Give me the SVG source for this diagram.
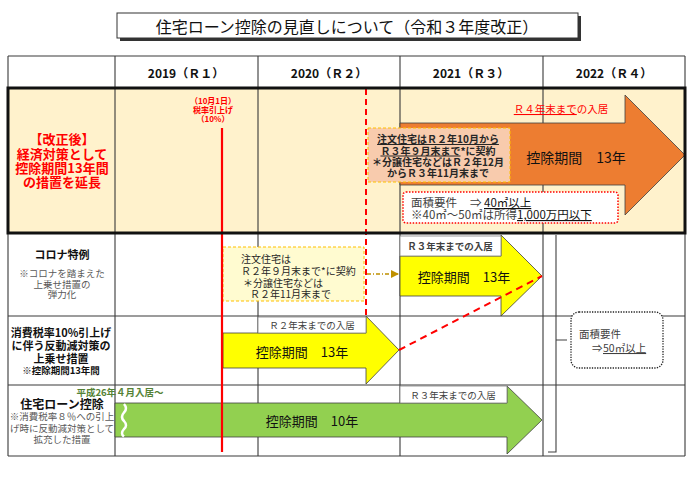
<svg xmlns="http://www.w3.org/2000/svg" width="700" height="483" viewBox="0 0 700 483">
<style>
text{font-family:"Noto Sans CJK JP","Noto Sans",sans-serif;dominant-baseline:central}
.grid{stroke:#3a3a3a;stroke-width:1.1;fill:none}
.hdr{font-size:12px;font-weight:bold;text-anchor:middle;fill:#111}
.mid{text-anchor:middle}
.main{font-size:13px;fill:#111;text-anchor:middle}
.lbl{font-size:9.5px;fill:#404040;text-anchor:middle}
.lblbox{fill:#fff;stroke:#7f7f7f;stroke-width:0.8}
.arrow{stroke:#404040;stroke-width:0.8}
.note{font-size:9.5px;fill:#595959;text-anchor:middle}
.u{text-decoration:underline}
.rdash{stroke:#ff0000;stroke-width:2;stroke-dasharray:6 4;fill:none}
</style>
<defs>
<marker id="brownHead" markerWidth="8" markerHeight="8" refX="7" refY="4" orient="auto" markerUnits="userSpaceOnUse">
<path d="M0,0 L8,4 L0,8 Z" fill="#bf9000"/>
</marker>
</defs>

<g id="title">
<rect x="120" y="16" width="461" height="25" fill="#333"/>
<rect x="117" y="13" width="461" height="25" fill="#fff" stroke="#333" stroke-width="1"/>
<text x="347" y="26" class="mid" font-size="16" fill="#111">住宅ローン控除の見直しについて（令和３年度改正）</text>
</g>

<g id="table-bg">
<rect x="8" y="88" width="677" height="145" fill="#fff2cc"/>
</g>

<g id="grid">
<path class="grid" d="M8,56 H685 M8,316 H685 M8,385 H685 M8,456 H685 M8,56 V456 M115,56 V456 M258,56 V456 M400,56 V456 M543,56 V456 M685,56 V456"/>
</g>

<g id="header">
<text x="186" y="72" class="hdr">2019（Ｒ１）</text>
<text x="329" y="72" class="hdr">2020（Ｒ２）</text>
<text x="471" y="72" class="hdr">2021（Ｒ３）</text>
<text x="614" y="72" class="hdr">2022（Ｒ４）</text>
</g>

<g id="row-kaisei">
<text class="mid" font-size="13" font-weight="bold" fill="#ff0000"><tspan x="62" y="138">【改正後】</tspan><tspan x="62" y="153">経済対策として</tspan><tspan x="62" y="167">控除期間13年間</tspan><tspan x="62" y="181">の措置を延長</tspan></text>
</g>

<g id="row-corona-label">
<text x="62" y="254" class="mid" font-size="11" font-weight="bold" fill="#111">コロナ特例</text>
<text class="note"><tspan x="62" y="273">※コロナを踏まえた</tspan><tspan x="62" y="283.5">上乗せ措置の</tspan><tspan x="62" y="294">弾力化</tspan></text>
</g>

<g id="row-tax-label">
<text class="mid" font-size="11" font-weight="bold" fill="#111"><tspan x="61" y="332">消費税率10%引上げ</tspan><tspan x="61" y="345">に伴う反動減対策の</tspan><tspan x="61" y="358">上乗せ措置</tspan></text>
<text x="61" y="370" class="mid" font-size="9.5" font-weight="bold" fill="#111">※控除期間13年間</text>
</g>

<g id="row-loan-label">
<text x="62" y="403" class="mid" font-size="12" font-weight="bold" fill="#111">住宅ローン控除</text>
<text class="note" font-size="9"><tspan x="62" y="416">※消費税率８％への引上</tspan><tspan x="62" y="428">げ時に反動減対策として</tspan><tspan x="62" y="439">拡充した措置</tspan></text>
</g>

<g id="arrow-orange">
<path class="arrow" d="M400,123 H625 V95 L685,155 L625,215 V185 H400 Z" fill="#ed7d31"/>
<text x="561" y="108" class="mid" font-size="10.5" fill="#ff0000"><tspan class="u">Ｒ４年末まで</tspan>の入居</text>
<text x="576" y="157" class="mid" font-size="14" fill="#111">控除期間　13年</text>
</g>

<g id="box-peach">
<rect x="368" y="128" width="142" height="54" fill="#f8cbad" stroke="#ffc000" stroke-width="1" stroke-dasharray="3 2"/>
<text class="mid" font-size="10" font-weight="bold" fill="#262626"><tspan x="438" y="138" class="u">注文住宅はＲ２年10月から</tspan><tspan x="438" y="149.5"><tspan class="u">Ｒ３年９月末まで</tspan>*に契約</tspan><tspan x="438" y="161">＊分譲住宅などはＲ２年12月</tspan><tspan x="438" y="172">からＲ３年11月末まで</tspan></text>
</g>

<g id="box-area40">
<rect x="403" y="192" width="215" height="31" rx="3" fill="#fff" stroke="#ff0000" stroke-width="1.5" stroke-dasharray="1.5 1.5"/>
<text font-size="11.5" fill="#404040"><tspan x="411" y="202">面積要件</tspan><tspan x="470" y="202">⇒</tspan><tspan x="484" y="202" class="u" fill="#111">40㎡以上</tspan><tspan x="411" y="214">※40㎡～50㎡は所得</tspan><tspan class="u" fill="#111">1,000万円以下</tspan></text>
</g>

<g id="box-corona">
<rect x="223" y="247" width="141" height="54" fill="#fffbd0" stroke="#ffc000" stroke-width="1" stroke-dasharray="3 2"/>
<text font-size="10" fill="#262626"><tspan x="241" y="258">注文住宅は</tspan><tspan x="241" y="270">Ｒ２年９月末まで*に契約</tspan><tspan x="243" y="282">＊分譲住宅などは</tspan><tspan x="250" y="293">Ｒ２年11月末まで</tspan></text>
</g>

<g id="arrow-corona">
<path class="arrow" d="M400,256 H501 V235 L542,276 L501,316 V296 H400 Z" fill="#ffff00"/>
<rect class="lblbox" x="400" y="236" width="101" height="20"/>
<text x="450" y="246" class="lbl" fill="#262626" font-weight="bold">Ｒ３年末までの入居</text>
<text x="464" y="276" class="main">控除期間　13年</text>
</g>

<g id="arrow-tax">
<path class="arrow" d="M223,333 H366 V316 L399,350 L366,384 V368 H223 Z" fill="#ffff00"/>
<rect class="lblbox" x="258" y="317" width="108" height="16"/>
<text x="312" y="325" class="lbl">Ｒ２年末までの入居</text>
<text x="302" y="351" class="main">控除期間　13年</text>
</g>

<g id="arrow-loan">
<path class="arrow" d="M115,403 H507 V386 L542,420 L507,454 V437 H115 Z" fill="#92d050"/>
<path d="M124,404 q4,4.5 0,8.5 q-4,4.5 0,8.5 q4,4.5 0,8 q-4,4.5 0,7.5" fill="none" stroke="#fff" stroke-width="2.5"/>
<rect class="lblbox" x="400" y="386" width="107" height="17"/>
<text x="453" y="395" class="lbl">Ｒ３年末までの入居</text>
<text x="312" y="420" class="main">控除期間　10年</text>
<text x="120" y="392" class="mid" font-size="9.5" font-weight="bold" fill="#548235">平成26年４月入居～</text>
</g>

<g id="box-area50">
<rect x="571" y="312" width="92" height="56" rx="8" fill="#fff" stroke="#222" stroke-width="1.3" stroke-dasharray="1.3 1.3"/>
<text font-size="10.5" fill="#404040"><tspan x="579" y="333">面積要件</tspan><tspan x="592" y="347">⇒</tspan><tspan x="603" y="347" class="u">50㎡以上</tspan></text>
</g>

<g id="connectors">
<line x1="222" y1="128" x2="222" y2="452" stroke="#ff0000" stroke-width="2.2"/>
<line x1="366" y1="89" x2="366" y2="316" class="rdash"/>
<line x1="399" y1="350" x2="542" y2="276" stroke="#ff0000" stroke-width="2" stroke-dasharray="7 5"/>
<line x1="367" y1="274" x2="398" y2="274" stroke="#bf9000" stroke-width="1.3" stroke-dasharray="4 2 1 2" marker-end="url(#brownHead)"/>
<path d="M556,235 V452 H548 M556,340 H567" fill="none" stroke="#404040" stroke-width="1.1"/>
</g>

<g id="tax-hike-note">
<text class="mid" font-size="8" font-weight="bold" fill="#ff0000"><tspan x="213" y="100">（10月1日）</tspan><tspan x="213" y="109">税率引上げ</tspan><tspan x="213" y="118">（10%）</tspan></text>
</g>

<g id="frame">
<rect x="8" y="88" width="677" height="145" fill="none" stroke="#111" stroke-width="3"/>
</g>
</svg>
